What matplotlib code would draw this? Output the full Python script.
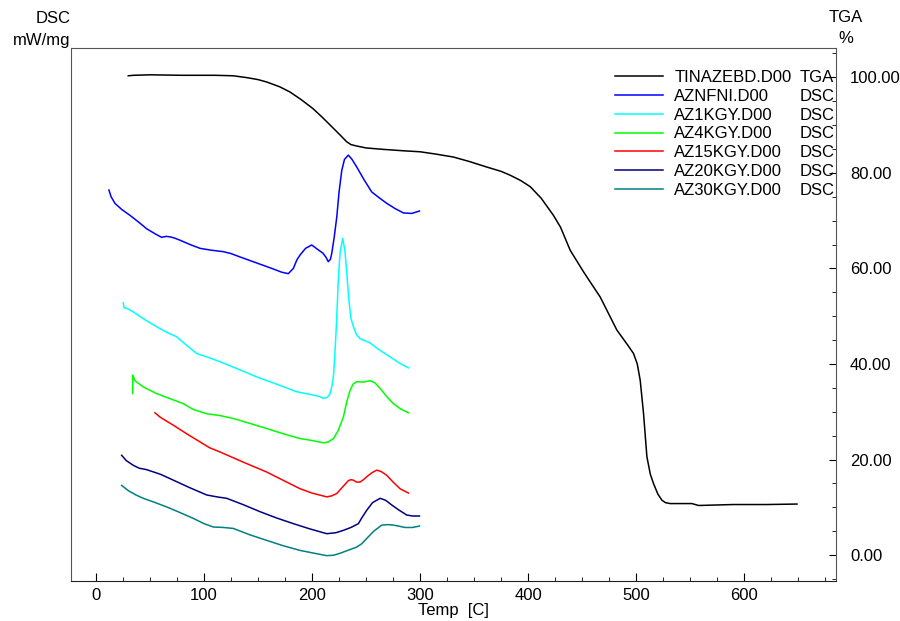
import matplotlib
matplotlib.use("Agg")
import matplotlib.pyplot as plt
from matplotlib.lines import Line2D
from matplotlib.ticker import MultipleLocator, FormatStrFormatter

plt.rcParams['font.family'] = ['Liberation Sans', 'DejaVu Sans']

# TGA curve (weight %)
tga_t = [29.9, 35, 50, 80, 110, 127, 140, 150, 158, 170, 179.6, 190, 201, 210, 219.8, 226,
         232, 236, 241.4, 250, 266, 285, 300, 315, 330.8, 345, 361.8, 375, 383.3, 393,
         401.9, 412, 423.4, 430, 438.9, 451.2, 466.7, 482.1, 492, 497.5, 501, 503.7, 506.8,
         509.9, 513, 516, 520, 523.8, 527, 531.5, 551.6, 557.7, 590, 620, 648.8]
tga_w = [100.3, 100.4, 100.5, 100.4, 100.4, 100.3, 99.9, 99.5, 99.0, 98.0, 96.9, 95.3, 93.4,
         91.5, 89.3, 87.9, 86.5, 85.9, 85.6, 85.2, 84.9, 84.6, 84.4, 83.9, 83.3, 82.4, 81.2,
         80.3, 79.5, 78.4, 77.1, 74.7, 71.1, 68.6, 63.8, 59.3, 54.0, 47.1, 44.0, 42.2, 40.0,
         36.6, 29.6, 20.6, 17.0, 15.0, 12.8, 11.5, 11.0, 10.8, 10.8, 10.4, 10.6, 10.6, 10.7]

# DSC curves (arbitrary offsets, drawn in the same frame)
nfni_t = [12, 14, 17.6, 24, 31.5, 40, 46.9, 55, 60.8, 65, 68.5, 72, 77.8, 87, 96.3, 107,
          117.9, 125, 133.3, 148, 162.7, 172, 178, 182.7, 186, 188.9, 194, 199.7, 205, 210,
          213, 215, 217, 218.2, 220.5, 222.9, 225, 227.5, 230, 233.6, 237, 241.4, 248, 255.2,
          262, 269.2, 277, 284.6, 292.3, 299.4]
nfni_v = [76.4, 75.0, 73.6, 72.3, 71.1, 69.6, 68.3, 67.2, 66.5, 66.7, 66.6, 66.4, 65.9, 65.0,
          64.2, 63.8, 63.5, 63.1, 62.4, 61.2, 60.0, 59.2, 58.9, 60.0, 61.8, 62.8, 64.2, 64.9,
          64.0, 63.2, 62.3, 61.4, 61.9, 63.1, 66.5, 70.8, 76.0, 80.5, 82.8, 83.7, 82.8, 81.2,
          78.6, 76.0, 74.8, 73.6, 72.5, 71.6, 71.5, 72.0]

k1_t = [25.3, 26.0, 30, 34.6, 45, 56.2, 65, 74.7, 84, 93.2, 105, 117.9, 133, 148.8, 167,
        185.8, 201.2, 207, 210.5, 214, 216.7, 218.5, 220, 221.3, 222.5, 224.4, 226, 228.4,
        230.5, 232, 234, 236, 238.3, 241, 244.4, 253.7, 262, 272.2, 280, 289.2]
k1_v = [52.8, 51.8, 51.5, 50.9, 49.3, 47.8, 46.7, 45.7, 43.9, 42.2, 41.3, 40.2, 38.8, 37.3,
        35.8, 34.2, 33.5, 33.2, 32.8, 33.0, 33.8, 35.5, 38.0, 42.9, 48.0, 58.2, 63.5, 66.3,
        63.5, 59.5, 53.5, 49.5, 47.8, 46.2, 45.3, 44.4, 43.0, 41.5, 40.3, 39.2]

k4_t = [34, 34, 36, 43.8, 56.2, 68, 80.8, 90, 102.5, 115, 127.1, 142, 158, 172, 188.9, 200,
        210.5, 215, 219.8, 224, 229, 232, 235.2, 238, 241.4, 247, 253.7, 258, 263, 269,
        275.3, 282, 289.2]
k4_v = [33.8, 37.7, 36.5, 35.2, 33.8, 32.8, 31.7, 30.5, 29.6, 29.2, 28.6, 27.6, 26.5, 25.5,
        24.4, 24.0, 23.5, 23.7, 24.4, 26.0, 28.9, 32.0, 34.5, 35.8, 36.3, 36.2, 36.5, 36.1,
        34.9, 33.2, 31.7, 30.6, 29.8]

k15_t = [54.6, 59.3, 65, 71.6, 84, 96.3, 105, 114.8, 136, 158, 173, 188.9, 200, 213.6, 218,
         222.9, 228, 233.6, 236, 238.3, 241, 244.4, 247, 250.6, 255, 259.9, 264, 269.2, 275,
         281.5, 289.2]
k15_v = [29.8, 28.9, 28.1, 27.2, 25.4, 23.7, 22.5, 21.6, 19.5, 17.4, 15.7, 13.9, 13.0, 12.2,
         12.4, 12.9, 14.2, 15.6, 15.8, 15.7, 15.3, 15.3, 15.7, 16.4, 17.2, 17.8, 17.5, 16.7,
         15.3, 13.9, 13.0]

k20_t = [23.8, 28, 34.6, 40, 46.9, 60, 71.6, 86, 102.5, 112, 121, 136, 151.9, 167, 182.7,
         198, 213.6, 222, 229, 236, 242.9, 246, 250.6, 256, 263, 268, 273.8, 280, 287.7,
         293, 299.4]
k20_v = [20.9, 19.8, 18.8, 18.2, 17.9, 16.9, 15.7, 14.2, 12.6, 12.2, 11.9, 10.6, 9.1, 7.8,
         6.6, 5.5, 4.5, 4.7, 5.2, 5.8, 6.6, 7.8, 9.4, 11.0, 11.9, 11.5, 10.5, 9.5, 8.4,
         8.2, 8.2]

k30_t = [23.8, 30, 37, 43.8, 55, 65.4, 78, 90.1, 100, 108.6, 118, 127.1, 142, 158, 173,
         188.9, 200, 213.6, 220, 225.9, 233, 241.4, 246, 250.6, 257, 264.5, 270, 275.3,
         286.1, 293, 299.4]
k30_v = [14.6, 13.5, 12.6, 11.9, 11.0, 10.1, 8.9, 7.7, 6.6, 5.9, 5.8, 5.6, 4.3, 3.1, 2.0,
         1.0, 0.5, -0.1, 0.0, 0.4, 1.0, 1.7, 2.4, 3.5, 5.0, 6.3, 6.4, 6.3, 5.8, 5.8, 6.1]

names = ["TINAZEBD.D00", "AZNFNI.D00", "AZ1KGY.D00", "AZ4KGY.D00",
         "AZ15KGY.D00", "AZ20KGY.D00", "AZ30KGY.D00"]
kinds = ["TGA", "DSC", "DSC", "DSC", "DSC", "DSC", "DSC"]
colors = ["black", "#0000ff", "#00ffff", "#00ff00", "#ff0000", "#000080", "#008080"]

fig = plt.figure(figsize=(9, 6.21), dpi=100)
ax = fig.add_axes([0.079, 0.0644, 0.850, 0.859])

series = [(tga_t, tga_w), (nfni_t, nfni_v), (k1_t, k1_v), (k4_t, k4_v),
          (k15_t, k15_v), (k20_t, k20_v), (k30_t, k30_v)]
for (t, v), c in zip(series, colors):
    ax.plot(t, v, color=c, lw=1.1)

ax.set_xlim(-23, 685)
ax.set_ylim(-5.4, 106.2)

# x axis
ax.xaxis.set_major_locator(MultipleLocator(100))
ax.xaxis.set_minor_locator(MultipleLocator(25))
ax.tick_params(axis='x', which='both', direction='in', labelsize=12, pad=5)
ax.tick_params(axis='x', which='major', length=6)
ax.tick_params(axis='x', which='minor', length=3)
ax.set_xlabel("Temp  [C]", fontsize=12, labelpad=0)

# right (TGA) axis
ax.yaxis.tick_right()
ax.yaxis.set_major_locator(MultipleLocator(20))
ax.yaxis.set_minor_locator(MultipleLocator(5))
ax.yaxis.set_major_formatter(FormatStrFormatter('%.2f'))
ax.tick_params(axis='y', which='both', direction='in', labelsize=12, pad=10)
ax.tick_params(axis='y', which='major', length=5)
ax.tick_params(axis='y', which='minor', length=3)

for s in ['left', 'top', 'right']:
    ax.spines[s].set_color('#555555')
ax.spines['bottom'].set_color('#222222')

fig.text(0.078, 0.970, "DSC", ha='right', va='center', fontsize=12)
fig.text(0.078, 0.935, "mW/mg", ha='right', va='center', fontsize=12)
fig.text(0.940, 0.972, "TGA", ha='center', va='center', fontsize=12)
fig.text(0.940, 0.938, "%", ha='center', va='center', fontsize=12)

# legend: names in first column, type in second column (clipped by the axis)
handles = [Line2D([], [], color=c, lw=1.1) for c in colors]
blanks = [Line2D([], [], alpha=0) for _ in kinds]
leg = ax.legend(handles + blanks, names + kinds, ncol=2, loc='upper left',
                bbox_to_anchor=(0.711, 0.958), frameon=False, fontsize=12,
                handlelength=2.9, handletextpad=0.65, labelspacing=0.23,
                columnspacing=-3.05, borderaxespad=0, borderpad=0)
for t in leg.get_texts():
    t.set_clip_on(True)
    t.set_clip_box(ax.bbox)

fig.savefig("out.png", dpi=100)
